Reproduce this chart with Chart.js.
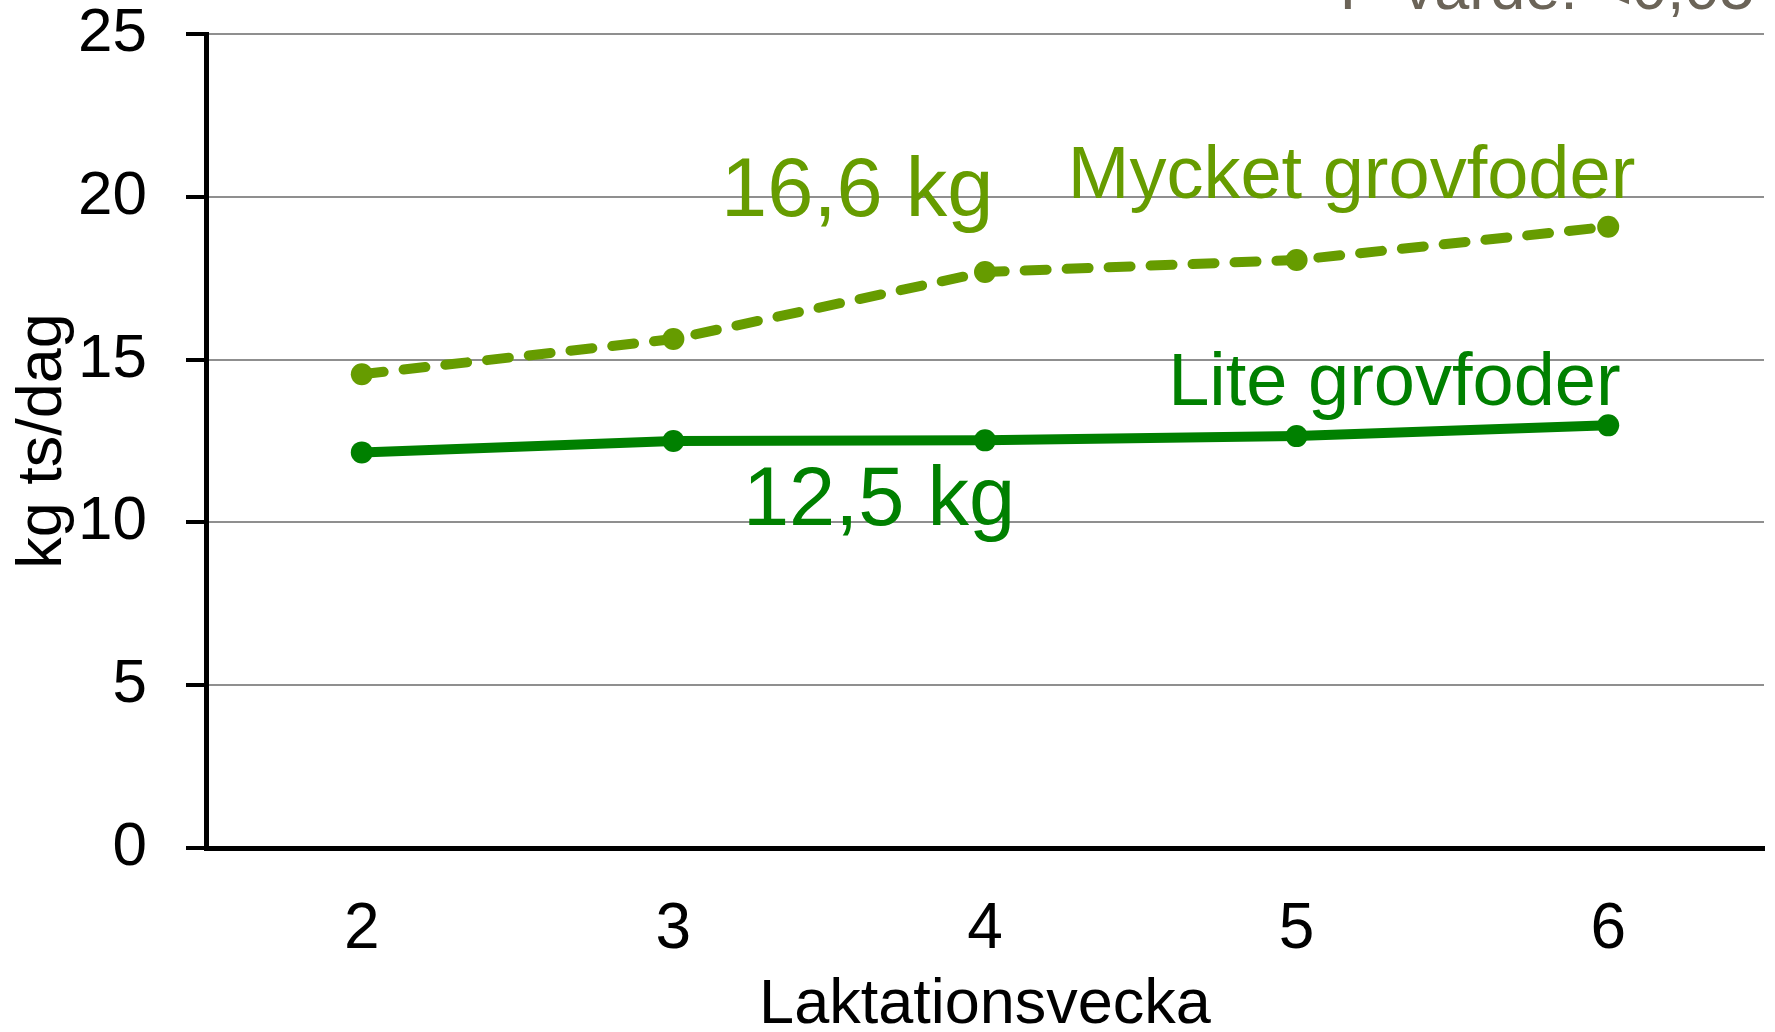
<!DOCTYPE html>
<html lang="sv">
<head>
<meta charset="utf-8">
<title>Konsumtion kg ts/dag</title>
<script src="https://cdn.jsdelivr.net/npm/chart.js@4.4.1/dist/chart.umd.min.js"></script>
<style>
  html, body { margin: 0; padding: 0; background: #fff; }
  canvas { display: block; }
</style>
</head>
<body>
<canvas id="chart" width="1775" height="1032"></canvas>
<script>
// Laktationsvecka
const veckor = ['2', '3', '4', '5', '6'];
// kg ts/dag
const mycketGrovfoder = [14.55, 15.63, 17.69, 18.06, 19.08];
const liteGrovfoder = [12.15, 12.5, 12.52, 12.65, 12.98];
const yTicks = [0, 5, 10, 15, 20, 25];

const FONT = '"Liberation Sans", Arial, sans-serif';
const OLIV = '#669c00';
const GRON = '#008000';

// Texter i diagrammet, placerade i dataenheter (index på x, värde på y)
const texter = [
    { text: '16,6 kg', color: OLIV, size: 83, x: 1.59, y: 19.41, align: 'center' },
    { text: '12,5 kg', color: GRON, size: 83, x: 1.66, y: 9.92, align: 'center' },
    { text: 'Mycket grovfoder', color: OLIV, size: 74, x: 4.087, y: 19.96, align: 'right' },
    { text: 'Lite grovfoder', color: GRON, size: 74, x: 4.04, y: 13.6, align: 'right' },
    { text: 'P-värde: <0,05', color: '#6b6458', size: 63, x: 4.47, y: 25.77, align: 'right' }
];

const textPlugin = {
    id: 'texter',
    afterDatasetsDraw(chart) {
        const ctx = chart.ctx;
        const xs = chart.scales.x;
        const ys = chart.scales.y;
        ctx.save();
        texter.forEach(function (t) {
            ctx.font = t.size + 'px ' + FONT;
            ctx.fillStyle = t.color;
            ctx.textAlign = t.align;
            ctx.textBaseline = 'alphabetic';
            ctx.fillText(t.text, xs.getPixelForValue(t.x), ys.getPixelForValue(t.y));
        });
        ctx.restore();
    }
};

new Chart(document.getElementById('chart'), {
    type: 'line',
    data: {
        labels: veckor,
        datasets: [{
            label: 'Mycket grovfoder',
            data: mycketGrovfoder,
            borderColor: OLIV,
            backgroundColor: OLIV,
            borderWidth: 10,
            borderDash: [22, 20],
            borderCapStyle: 'round',
            pointRadius: 11,
            pointBorderWidth: 0,
            tension: 0
        }, {
            label: 'Lite grovfoder',
            data: liteGrovfoder,
            borderColor: GRON,
            backgroundColor: GRON,
            borderWidth: 10,
            pointRadius: 11,
            pointBorderWidth: 0,
            tension: 0
        }]
    },
    options: {
        responsive: false,
        animation: false,
        layout: { padding: { top: 34, right: 9, left: 0, bottom: 0 } },
        plugins: {
            legend: { display: false },
            tooltip: { enabled: false }
        },
        scales: {
            x: {
                offset: true,
                grid: { display: false },
                border: { display: true, color: '#000', width: 5, z: 1 },
                ticks: { color: '#000', padding: 36, font: { family: FONT, size: 64 } },
                title: {
                    display: true,
                    text: 'Laktationsvecka',
                    color: '#000',
                    font: { family: FONT, size: 63, lineHeight: 1 },
                    padding: { top: 0, bottom: -5 }
                },
                afterFit(scale) { scale.height = 184; }
            },
            y: {
                min: 0,
                max: 25,
                afterBuildTicks(scale) { scale.ticks = yTicks.map(v => ({ value: v })); },
                grid: { color: '#8f8f8f', lineWidth: 2, tickColor: '#000', tickLength: 20, tickWidth: 4 },
                border: { display: true, color: '#000', width: 5, z: 1 },
                ticks: { color: '#000', padding: 39, font: { family: FONT, size: 62, lineHeight: 1.1 } },
                title: {
                    display: true,
                    text: 'kg ts/dag',
                    color: '#000',
                    font: { family: FONT, size: 63, lineHeight: 1 },
                    padding: { top: 12, bottom: 0 }
                },
                afterFit(scale) {
                    // tick-padding läggs annars till överst/nederst i diagrammet
                    scale.width = 206;
                    scale.paddingTop = 0;
                    scale.paddingBottom = 0;
                }
            }
        }
    },
    plugins: [textPlugin]
});
</script>
</body>
</html>
